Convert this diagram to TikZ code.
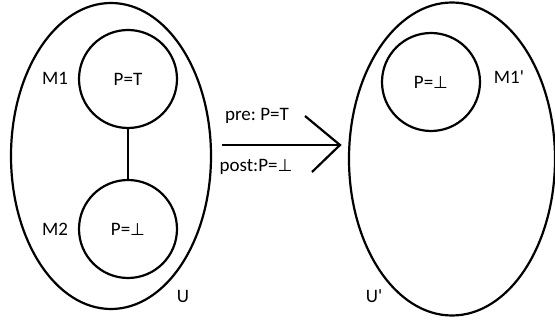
\documentclass[tikz,border=0pt]{standalone}
\usepackage{fontspec}
\setmainfont{Carlito}
\newfontfamily\symfont{DejaVu Sans}
\usetikzlibrary{shapes.geometric}
\newcommand{\falsum}{{\symfont\fontsize{17}{17}\selectfont ⊥}}
\begin{document}
\begin{tikzpicture}[x=1pt,y=-1pt,
  lw/.style={line width=2.2pt},
  world/.style={draw,lw,ellipse,inner sep=0pt},
  model/.style={draw,lw,circle,inner sep=0pt,minimum size=98pt},
  lbl/.style={inner sep=0pt,font=\fontsize{19}{19}\selectfont}]
\useasboundingbox (0,0) rectangle (555,323);
% universe U with its two models
\node[world,minimum width=200pt,minimum height=306pt] (U) at (111,156) {};
\node[model] (M1) at (128,79) {};
\node[model] (M2) at (128,229) {};
\node[lbl] (p1) at (128,79) {P=T};
\node[lbl] (p2) at (128,229) {P=\falsum};
\node[lbl] (l1) at (55,78) {M1};
\node[lbl] (l2) at (55,229) {M2};
\node[lbl] (lu) at (183,296) {U};
\draw[lw] (M1.south) -- (M2.north);
% update arrow
\coordinate (a0) at (222,145);
\coordinate (tip) at (340,145);
\coordinate (armT) at (305,116);
\coordinate (armB) at (312,172);
\draw[lw] (a0) -- (tip);
\draw[lw] (armT) -- (tip) -- (armB);
\node[lbl] (pre) at (257,116) {pre:~P=T};
\node[lbl] (post) at (256,167) {post:P=\falsum};
% universe U' after the update
\node[world,minimum width=206pt,minimum height=313pt] (U2) at (452,159) {};
\node[model] (M1p) at (431,82) {};
\node[lbl] (p3) at (431,82) {P=\falsum};
\node[lbl] (l3) at (509,77) {M1\textquotesingle};
\node[lbl] (lu2) at (374,296) {U\textquotesingle};
\end{tikzpicture}
\end{document}
